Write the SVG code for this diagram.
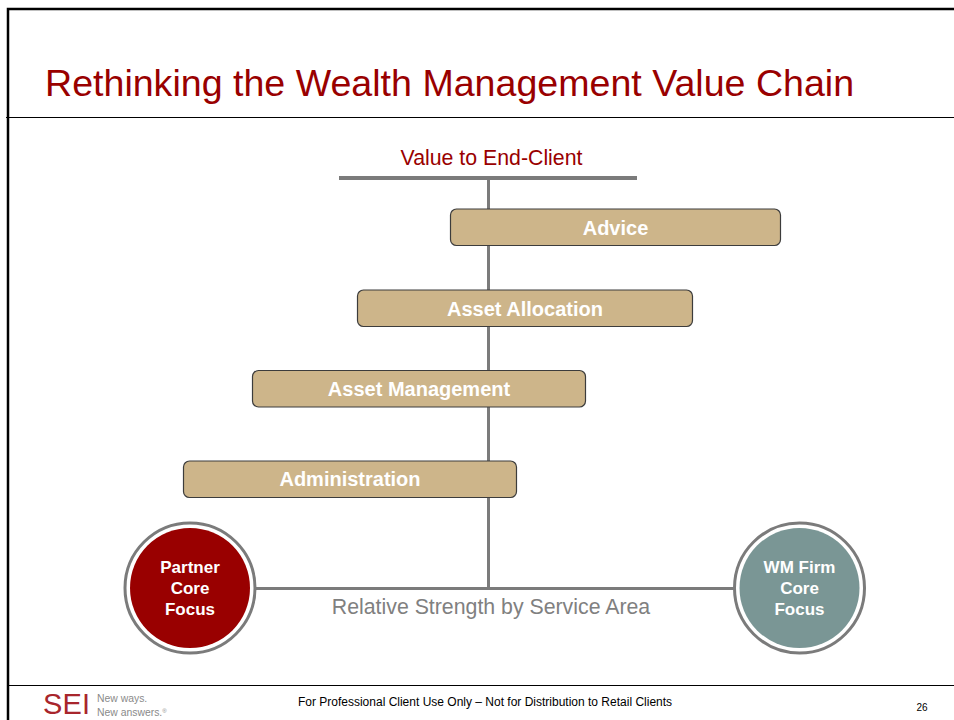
<svg xmlns="http://www.w3.org/2000/svg" width="954" height="720" viewBox="0 0 954 720">
<style>
text{font-family:"Liberation Sans",Arial,sans-serif}
.bar{fill:#cdb58a;stroke:#3c3c3c;stroke-width:1.2}
.lb{fill:#fff;font-weight:bold;font-size:20px;text-anchor:middle}
.cl{fill:#fff;font-weight:bold;font-size:17px;text-anchor:middle}
.ring{fill:none;stroke:#7b7b7b;stroke-width:3}
.ln{stroke:#7b7b7b;fill:none}
.frame{stroke:#000;fill:none}
</style>
<rect width="954" height="720" fill="#fff"/>
<g id="frame">
<path class="frame" stroke-width="2.5" d="M8 720V9H954"/>
<path class="frame" stroke-width="1.2" d="M6 117.500H954M8 685.500H954"/>
</g>
<text x="45" y="96" font-size="37.600" fill="#990000">Rethinking the Wealth Management Value Chain</text>
<g id="connectors">
<path class="ln" stroke-width="4" d="M339 178H637"/>
<path class="ln" stroke-width="3" d="M488.500 178V588"/>
<path class="ln" stroke-width="3" d="M255 588.500H736"/>
</g>
<text x="491.500" y="165" font-size="21.300" fill="#990000" text-anchor="middle">Value to End-Client</text>
<g id="advice"><rect class="bar" x="450.500" y="209" width="330" height="36.500" rx="6"/><text class="lb" x="615.500" y="235">Advice</text></g>
<g id="asset-allocation"><rect class="bar" x="357.500" y="290" width="335" height="36.500" rx="6"/><text class="lb" x="525" y="316">Asset Allocation</text></g>
<g id="asset-management"><rect class="bar" x="252.500" y="370.500" width="333" height="36.500" rx="6"/><text class="lb" x="419" y="396">Asset Management</text></g>
<g id="administration"><rect class="bar" x="183.500" y="461" width="333" height="36.500" rx="6"/><text class="lb" x="350" y="486">Administration</text></g>
<g id="partner-core-focus">
<circle class="ring" cx="190" cy="588" r="65"/>
<circle cx="190" cy="588" r="60" fill="#990000"/>
<text class="cl" x="190" y="573">Partner</text><text class="cl" x="190" y="594">Core</text><text class="cl" x="190" y="615">Focus</text>
</g>
<g id="wm-firm-core-focus">
<circle class="ring" cx="799.500" cy="588" r="65"/>
<circle cx="799.500" cy="588" r="60" fill="#7a9695"/>
<text class="cl" x="799.500" y="573">WM Firm</text><text class="cl" x="799.500" y="594">Core</text><text class="cl" x="799.500" y="615">Focus</text>
</g>
<text x="491" y="614" font-size="21.300" fill="#808080" text-anchor="middle">Relative Strength by Service Area</text>
<g id="logo">
<text x="43" y="713.800" font-size="29" fill="#a8262c" textLength="47" lengthAdjust="spacing">SEI</text>
<text x="97" y="702" font-size="10.400" fill="#8a8a8a">New ways.</text>
<text x="97" y="716" font-size="10.400" fill="#8a8a8a">New answers.<tspan font-size="6" dy="-3">®</tspan></text>
</g>
<text x="485" y="706" font-size="12" fill="#000" text-anchor="middle">For Professional Client Use Only – Not for Distribution to Retail Clients</text>
<text x="922" y="711" font-size="10" fill="#000" text-anchor="middle">26</text>
</svg>
